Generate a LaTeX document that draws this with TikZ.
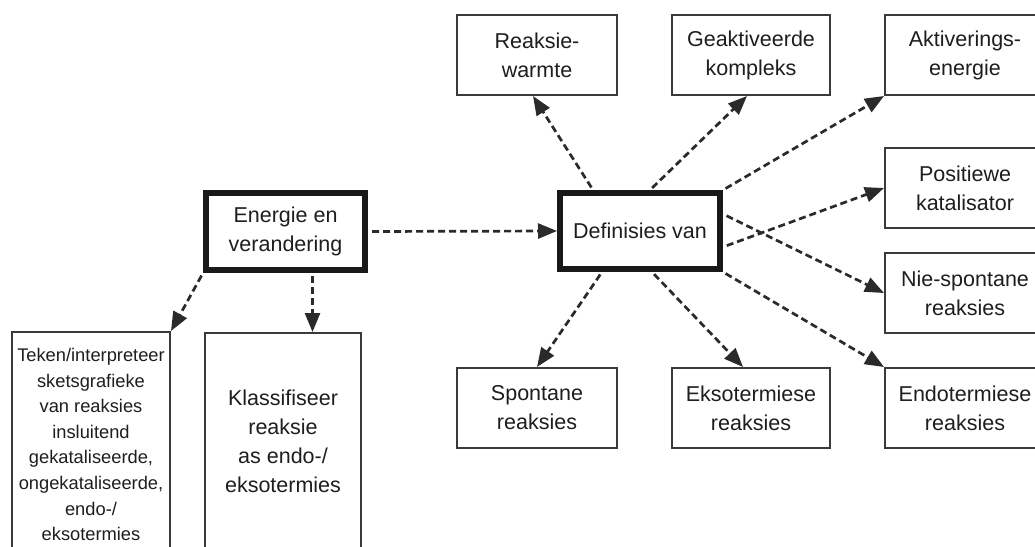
\documentclass[tikz,border=0pt]{standalone}
\usepackage{fontspec}
\setmainfont{Liberation Sans}
\usetikzlibrary{arrows.meta}
\definecolor{txt}{HTML}{1E1E1E}
\definecolor{brd}{HTML}{3A3A3A}
\definecolor{arr}{HTML}{2A2A2A}
\tikzset{
  thinbox/.style={draw=brd, line width=2pt, fill=white, text=txt, align=center, inner sep=0pt,
    font={\fontsize{21.5}{29}\selectfont}},
  thickbox/.style={draw=black!90, line width=6pt, fill=white, text=txt, align=center, inner sep=0pt,
    font={\fontsize{21.5}{29}\selectfont}},
  smalltext/.style={font={\fontsize{18.3}{25.6}\selectfont}},
  dasharrow/.style={draw=arr, line width=2.7pt, dash pattern=on 7pt off 4pt,
    -{Triangle[length=19pt,width=15pt]}}
}
\begin{document}
\begin{tikzpicture}[x=1pt,y=-1pt]
\useasboundingbox[fill=white] (0,0) rectangle (1035,546);
\clip (0,0) rectangle (1035,546);

% main nodes
\node[thickbox, minimum width=159pt, minimum height=77pt] (E) at (285.5,231.5) {Energie en\\verandering};
\node[thickbox, minimum width=160pt, minimum height=76pt] (D) at (640,231) {Definisies van};

% top row
\node[thinbox, minimum width=160pt, minimum height=80pt] (R) at (537,55) {Reaksie-\\warmte};
\node[thinbox, minimum width=158pt, minimum height=80pt] (G) at (751,55) {Geaktiveerde\\kompleks};
\node[thinbox, minimum width=160pt, minimum height=80pt] (A) at (965,55) {Aktiverings-\\energie};

% right column
\node[thinbox, minimum width=160pt, minimum height=80pt] (P) at (965,188) {Positiewe\\katalisator};
\node[thinbox, minimum width=160pt, minimum height=80pt] (N) at (965,293) {Nie-spontane\\reaksies};
\node[thinbox, minimum width=160pt, minimum height=80pt] (En) at (965,408) {Endotermiese\\reaksies};

% bottom row
\node[thinbox, minimum width=160pt, minimum height=80pt] (S) at (537,408) {Spontane\\reaksies};
\node[thinbox, minimum width=158pt, minimum height=80pt] (Ek) at (751,408) {Eksotermiese\\reaksies};

% left bottom boxes
\node[thinbox, minimum width=158pt, minimum height=218pt] (T) at (91,441) {};
\node[smalltext, text=txt, align=center, inner sep=0pt] (Tt) at (T.center) [yshift=-3.5pt]
  {Teken/interpreteer\\sketsgrafieke\\van reaksies\\insluitend\\gekataliseerde,\\ongekataliseerde,\\endo-/\\eksotermies};
\node[thinbox, minimum width=156pt, minimum height=216pt] (K) at (283,441)
  {Klassifiseer\\reaksie\\as endo-/\\eksotermies};

% connectors
\draw[dasharrow, shorten <=4pt] (E.east) -- (D.west);
\draw[dasharrow, shorten <=3pt] (E.south west) -- (T.north east);
\draw[dasharrow, shorten <=3pt] ([xshift=27pt]E.south) -- ([xshift=27pt]E.south |- K.north);

\draw[dasharrow, shorten <=3pt] ([xshift=-47pt]D.north) -- ([xshift=-4pt]R.south);
\draw[dasharrow, shorten <=3pt] ([xshift=10pt]D.north) -- ([xshift=-4pt]G.south);
\draw[dasharrow, shorten <=3pt] (D.north east) -- (A.south west);
\draw[dasharrow, shorten <=4pt] ([yshift=-16pt]D.east) -- (P.west);
\draw[dasharrow, shorten <=4pt] ([yshift=17pt]D.east) -- (N.west);
\draw[dasharrow, shorten <=3pt] (D.south east) -- (En.north west);
\draw[dasharrow, shorten <=3pt] ([xshift=-38pt]D.south) -- (S.north);
\draw[dasharrow, shorten <=3pt] ([xshift=12pt]D.south) -- ([xshift=-8pt]Ek.north);
\end{tikzpicture}
\end{document}
